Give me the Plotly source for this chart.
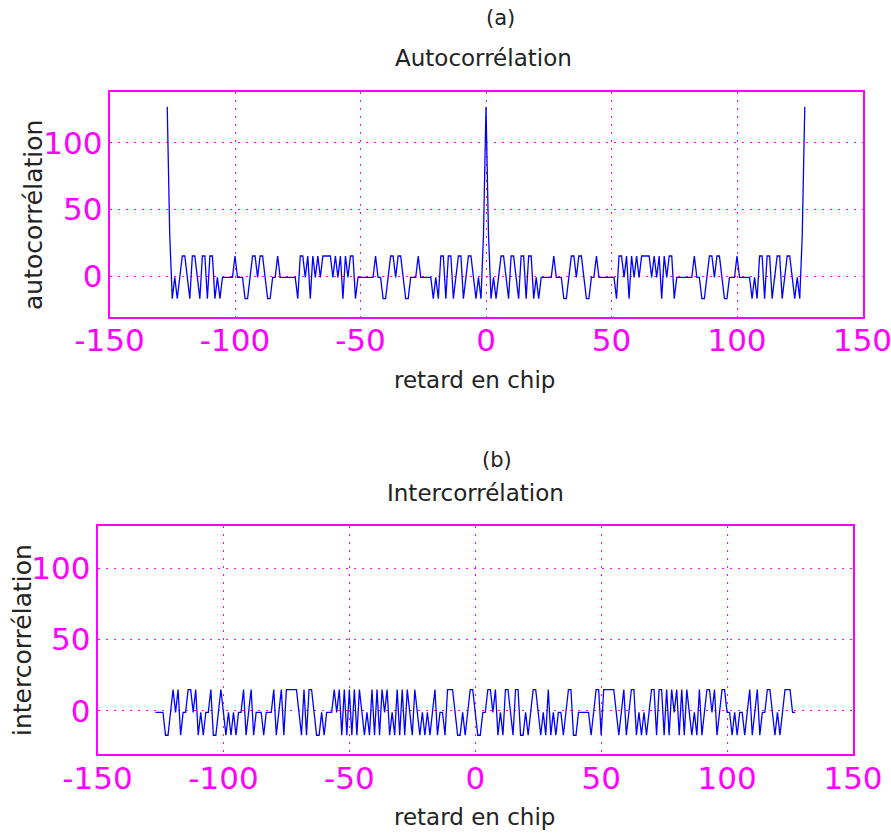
import plotly.graph_objects as go

# ---------------- data ----------------
lags = list(range(-127, 128))

auto_vals = [
    # lags -127 .. -64
    127, 31, -17, -1, -17, -1, 15, 15, -1, -17,
    15, 15, -1, -17, 15, 15, -17, 15, 15, -17,
    -1, -17, -1, -1, -1, -1, -1, 15, -1, -1,
    -1, -17, -17, -1, 15, 15, -1, 15, 15, -1,
    -17, -17, -1, -1, 15, -1, -1, -1, -1, -1,
    -1, -1, -17, 15, 15, -1, 15, -17, 15, -1,
    15, -1, 15, 15,
    # lags -63 .. -1
    15, 15, -1, 15, -1, 15, -17, 15, -1, 15,
    15, -17, -1, -1, -1, -1, -1, -1, -1, 15,
    -1, -1, -17, -17, -1, 15, 15, -1, 15, 15,
    -1, -17, -17, -1, -1, -1, 15, -1, -1, -1,
    -1, -1, -17, -1, -17, 15, 15, -17, 15, 15,
    -17, -1, 15, 15, -17, -1, 15, 15, -1, -17,
    -1, -17, 31,
    # lags 0 .. 63
    127, 31, -17, -1, -17, -1, 15, 15, -1, -17,
    15, 15, -1, -17, 15, 15, -17, 15, 15, -17,
    -1, -17, -1, -1, -1, -1, -1, 15, -1, -1,
    -1, -17, -17, -1, 15, 15, -1, 15, 15, -1,
    -17, -17, -1, -1, 15, -1, -1, -1, -1, -1,
    -1, -1, -17, 15, 15, -1, 15, -17, 15, -1,
    15, -1, 15, 15,
    # lags 64 .. 127
    15, 15, -1, 15, -1, 15, -17, 15, -1, 15,
    15, -17, -1, -1, -1, -1, -1, -1, -1, 15,
    -1, -1, -17, -17, -1, 15, 15, -1, 15, 15,
    -1, -17, -17, -1, -1, -1, 15, -1, -1, -1,
    -1, -1, -17, -1, -17, 15, 15, -17, 15, 15,
    -17, -1, 15, 15, -17, -1, 15, 15, -1, -17,
    -1, -17, 31, 127,
]

inter_vals = [
    -1, -1, -1, -1, -17, -17, -1, 15, -1, 15,
    -17, -1, -1, 15, 15, -1, 15, -17, -1, -17,
    -1, -1, 15, -17, -17, -1, 15, -1, -17, -1,
    -17, -1, -17, -1, -1, 15, -17, -1, 15, -17,
    -1, -1, -1, -17, -1, -1, -1, 15, -17, -1,
    15, -17, 15, 15, 15, 15, 15, -1, -17, 15,
    -17, 15, 15, -1, -17, -17, -1, -17, -1, -1,
    -1, 15, -1, 15, -17, 15, -17, 15, -17, 15,
    -17, 15, -1, -17, -1, -17, 15, -17, 15, -17,
    15, -1, 15, -17, -1, -17, 15, -17, 15, -17,
    15, -1, -17, 15, -1, -17, -1, -17, -1, -17,
    -1, 15, -17, -1, -1, -17, 15, 15, 15, -1,
    -17, -17, -1, -17, -1, 15, 15, -1, -17, -17,
    -1, -1, 15, 15, -1, 15, -17, -1, -17, 15,
    15, -1, -17, 15, 15, -17, -17, -1, -17, -1,
    15, 15, -1, -17, -1, -17, 15, -17, -1, -17,
    -1, -1, -17, -1, 15, 15, -17, -17, -1, -1,
    -1, -1, -1, -17, -1, 15, 15, -17, 15, 15,
    15, 15, 15, -1, -17, -1, 15, -17, -1, 15,
    15, -17, -1, -17, -1, -17, -1, 15, 15, -17,
    15, 15, -17, 15, -17, 15, -1, 15, -17, 15,
    -17, 15, -1, -17, -1, -17, 15, -17, -1, 15,
    15, -1, 15, -17, -1, 15, 15, -1, -1, -17,
    -1, -17, -1, -1, -17, -1, 15, -17, -1, 15,
    -17, -1, -1, 15, 15, -1, -17, -1, -17, -1,
    15, 15, 15, -1, -1,
]

x_ticks = [-150, -100, -50, 0, 50, 100, 150]
y_ticks = [0, 50, 100]

titles_top = ["(a)", "Autocorrélation"]
titles_bot = ["(b)", "Intercorrélation"]
xlabel = "retard en chip"
ylabel_top = "autocorrélation"
ylabel_bot = "intercorrélation"

# ---------------- layout helpers ----------------
W, H = 891, 834
def fx(p):
    return p / W
def fy(p):
    return 1 - p / H

MAG = "#ff00ff"
BLUE = "#0000ff"
TXT = "#222222"
FONT = "DejaVu Sans"

fig = go.Figure()
fig.add_trace(go.Scatter(x=lags, y=auto_vals, mode="lines",
                         line=dict(color=BLUE, width=1.3),
                         xaxis="x", yaxis="y", showlegend=False, hoverinfo="skip"))
fig.add_trace(go.Scatter(x=lags, y=inter_vals, mode="lines",
                         line=dict(color=BLUE, width=1.3),
                         xaxis="x2", yaxis="y2", showlegend=False, hoverinfo="skip"))

def ax(domain, rng, ticks, anchor, standoff):
    return dict(domain=domain, range=rng, tickvals=ticks, ticktext=[str(t) for t in ticks],
                showline=True, linecolor=MAG, linewidth=1.6, mirror=True,
                showgrid=True, gridcolor=MAG, griddash="2px,6px", gridwidth=1.2,
                zeroline=False, ticks="", anchor=anchor, fixedrange=True,
                automargin=False, ticklabelstandoff=standoff,
                ticklabeloverflow="allow",
                tickfont=dict(family=FONT, size=31, color=MAG))

fig.update_layout(
    width=W, height=H,
    margin=dict(l=0, r=0, t=0, b=0),
    paper_bgcolor="white", plot_bgcolor="white",
    xaxis=ax([fx(109.5), fx(862.5)], [-150, 150], x_ticks, "y", -5),
    yaxis=ax([fy(317), fy(92)], [-30.75, 138], y_ticks, "x", -1),
    xaxis2=ax([fx(97.5), fx(853)], [-150, 150], x_ticks, "y2", -4),
    yaxis2=ax([fy(754), fy(525.7)], [-30.1, 129.6], y_ticks, "x2", -1),
)

def label(text, x, y, size, angle=0):
    fig.add_annotation(text=text, x=fx(x), y=fy(y), xref="paper", yref="paper",
                       showarrow=False, xanchor="center", yanchor="middle",
                       textangle=angle, font=dict(family=FONT, size=size, color=TXT))

label(titles_top[0], 500, 18, 21)
label(titles_top[1], 483, 58, 23)
label(xlabel, 474, 380, 23)
label(ylabel_top, 34, 215, 25, -90)

label(titles_bot[0], 497, 460, 21)
label(titles_bot[1], 475, 493, 23)
label(xlabel, 474, 817, 23)
label(ylabel_bot, 22, 640, 25, -90)

fig.write_html("out.html")
